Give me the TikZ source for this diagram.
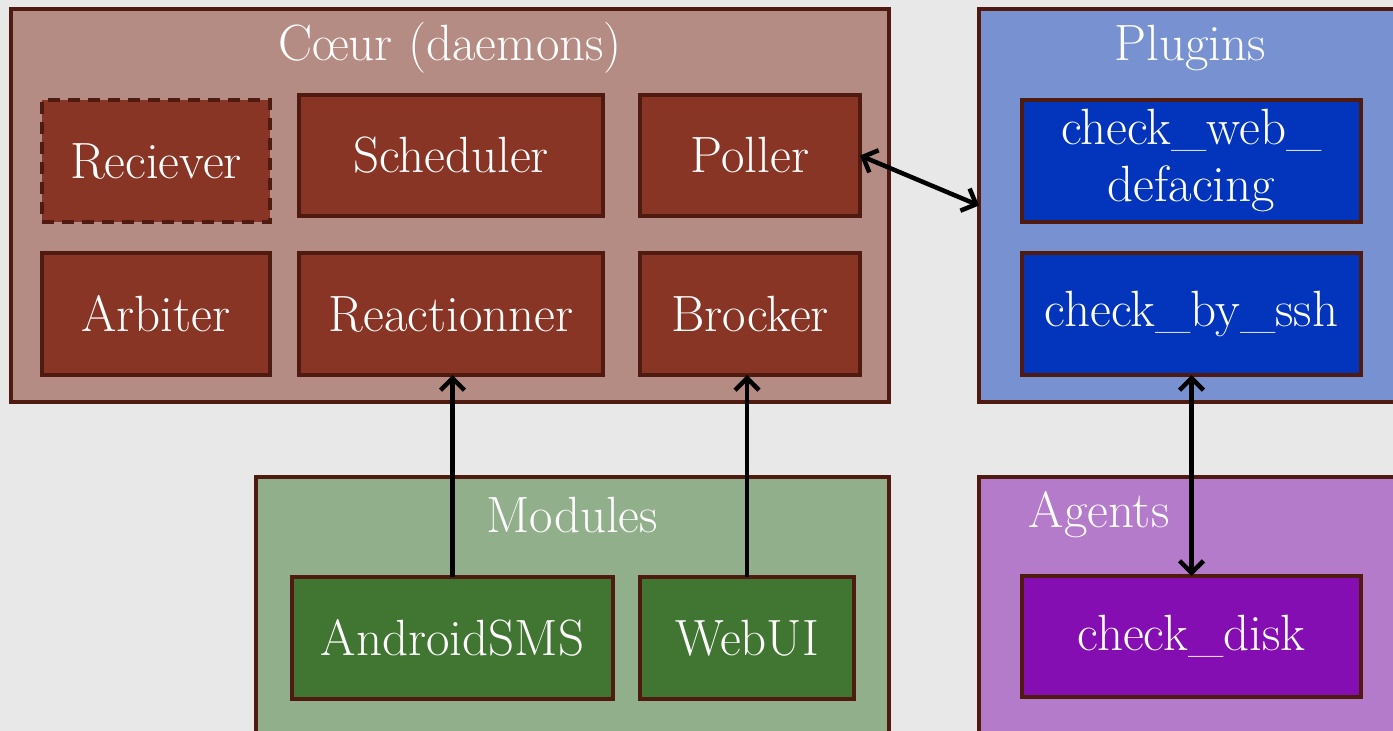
\documentclass[tikz,border=0pt]{standalone}
\usetikzlibrary{arrows.meta}
\definecolor{bgc}{HTML}{E8E8E8}
\definecolor{edge}{HTML}{4F1B10}
\definecolor{coeurbg}{HTML}{B58C84}
\definecolor{coeurin}{HTML}{883526}
\definecolor{plugbg}{HTML}{7891D1}
\definecolor{plugin}{HTML}{0335BC}
\definecolor{modbg}{HTML}{92AF8C}
\definecolor{modin}{HTML}{417532}
\definecolor{agbg}{HTML}{B47BCA}
\definecolor{agin}{HTML}{850EB2}
\tikzset{
  box/.style={draw=edge, line width=3.5pt, rectangle, inner sep=0pt, outer sep=0pt},
  lbl/.style={text=white, font=\fontsize{51}{56}\selectfont, inner sep=0pt, align=center},
  conn/.style={line width=4.5pt, black},
  mytip/.tip={Straight Barb[length=12pt, width=24pt, line width=4.5pt]}
}
\begin{document}
\begin{tikzpicture}[x=1pt, y=-1pt]
\clip (0,0) rectangle (1393,731);
\fill[bgc] (0,0) rectangle (1393,731);
% containers
\node[box, fill=coeurbg, minimum width=878pt, minimum height=393pt] (coeur) at (450,205.5) {};
\node[box, fill=plugbg, minimum width=440pt, minimum height=393pt] (plug) at (1199,205.5) {};
\node[box, fill=modbg, minimum width=633pt, minimum height=280pt] (mod) at (572.5,617) {};
\node[box, fill=agbg, minimum width=440pt, minimum height=280pt] (agents) at (1199,617) {};
% titles
\node[lbl] (tcoeur) at (450,48) {Cœur (daemons)};
\node[lbl] (tplug) at (1190,48) {Plugins};
\node[lbl] (tmod) at (572,515) {Modules};
\node[lbl] (tag) at (1099,515) {Agents};
% coeur inner
\node[box, dashed, dash pattern=on 12pt off 8pt, fill=coeurin, minimum width=228pt, minimum height=122pt, lbl] (recv) at (156,161) {Reciever};
\node[box, fill=coeurin, minimum width=304pt, minimum height=121pt, lbl] (sched) at (451,155.5) {Scheduler};
\node[box, fill=coeurin, minimum width=220pt, minimum height=121pt, lbl] (poller) at (750,155.5) {Poller};
\node[box, fill=coeurin, minimum width=228pt, minimum height=122pt, lbl] (arb) at (156,314) {Arbiter};
\node[box, fill=coeurin, minimum width=304pt, minimum height=122pt, lbl] (reac) at (451,314) {Reactionner};
\node[box, fill=coeurin, minimum width=220pt, minimum height=122pt, lbl] (brock) at (750,314) {Brocker};
% plugins inner
\node[box, fill=plugin, minimum width=339pt, minimum height=122pt, lbl, font=\fontsize{51}{57}\selectfont] (web) at (1191.5,161) {check\_web\_\\defacing};
\node[box, fill=plugin, minimum width=339pt, minimum height=122pt, lbl] (ssh) at (1191.5,314) {check\_by\_ssh};
% modules inner
\node[box, fill=modin, minimum width=321pt, minimum height=122pt, lbl] (andr) at (452.5,638) {AndroidSMS};
\node[box, fill=modin, minimum width=214pt, minimum height=122pt, lbl] (webui) at (747,638) {WebUI};
% agents inner
\node[box, fill=agin, minimum width=339pt, minimum height=121pt, lbl] (disk) at (1191.5,636.5) {check\_disk};
% connectors
\draw[conn, mytip-mytip] (poller.east) -- (plug.west);
\draw[conn, -mytip] (andr.north) -- (andr.north |- reac.south);
\draw[conn, -mytip] (webui.north) -- (webui.north |- brock.south);
\draw[conn, mytip-mytip] (ssh.south) -- (disk.north);
\end{tikzpicture}
\end{document}
